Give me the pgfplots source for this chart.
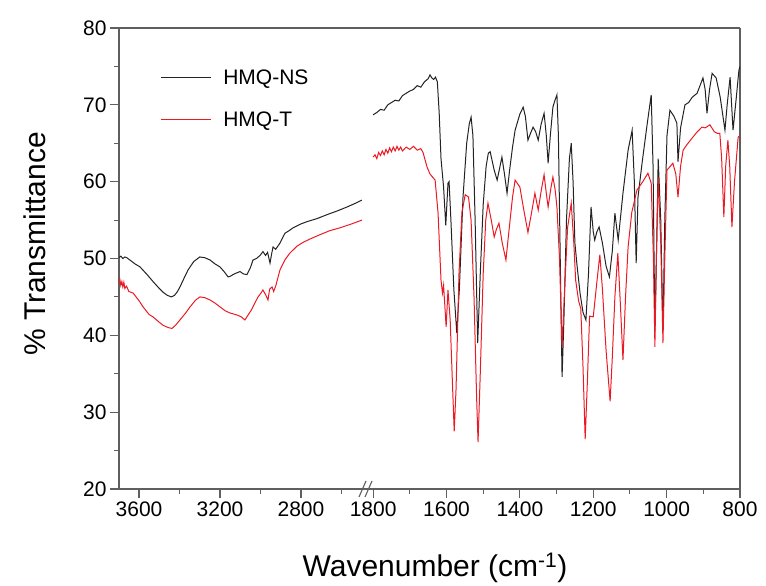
\documentclass[border=0pt]{standalone}
\usepackage{fontspec}
\setmainfont{Liberation Sans}
\usepackage{pgfplots}
\pgfplotsset{compat=1.18}

\definecolor{nsblack}{RGB}{35,35,35}
\definecolor{tred}{RGB}{235,25,35}
\definecolor{framegray}{RGB}{95,95,95}

% common look of both halves of the broken axis
\pgfplotsset{irhalf/.style={
  scale only axis, height=461pt,
  ymin=20, ymax=80,
  x dir=reverse,
  axis x line*=box,
  xtick pos=left,
  tick align=outside,
  major tick length=9pt, minor tick length=5pt,
  axis line style={framegray, line width=1.3pt},
  every tick/.style={framegray, line width=1.1pt},
  tick label style={font=\fontsize{21}{24}\selectfont},
  /pgf/number format/assume math mode=true,
  /pgf/number format/1000 sep={},
  every axis plot/.append style={line width=1pt},
}}

\begin{document}
\begin{tikzpicture}
\useasboundingbox (0,0) rectangle (766pt,586pt);

% ---- high wavenumber part
\begin{axis}[irhalf,
  at={(119pt,97pt)}, anchor=south west, width=249pt,
  xmin=2469, xmax=3699,
  axis y line*=left, ytick pos=left,
  ytick={20,30,40,50,60,70,80}, minor ytick={25,35,45,55,65,75},
  xtick={3600,3200,2800}, minor xtick={3400,3000,2600},
  legend style={draw=none, fill=none, at={(0.165,0.915)}, anchor=north west,
    font=\fontsize{21}{24}\selectfont, row sep=22pt, column sep=10pt, inner sep=0pt},
  legend cell align=left,
  legend image code/.code={\draw[#1] (0pt,0pt) -- (50pt,0pt);},
]
\addplot[nsblack] coordinates {
(3700,50.1)(3690,50.3)(3680,50.0)(3670,50.2)(3660,50.1)(3645,49.8)(3620,49.3)(3595,48.9)
(3560,47.9)(3531,47.0)(3500,46.1)(3481,45.6)(3460,45.2)(3440,45.0)(3425,45.2)(3410,45.7)
(3398,46.3)(3380,47.3)(3358,48.5)(3330,49.6)(3300,50.2)(3275,50.1)(3249,49.8)(3225,49.3)
(3200,48.9)(3180,48.3)(3160,47.6)(3148,47.7)(3136,47.9)(3120,48.1)(3101,48.3)(3085,48.0)
(3067,47.9)(3050,48.8)(3037,49.8)(3020,50.0)(3002,50.4)(2988,50.9)(2975,50.4)(2965,50.8)
(2953,49.4)(2945,50.6)(2938,51.5)(2925,51.2)(2904,52.0)(2879,53.3)(2860,53.6)(2839,54.0)
(2800,54.5)(2770,54.8)(2720,55.2)(2672,55.7)(2620,56.2)(2573,56.7)(2530,57.2)(2499,57.6)
};
\addlegendentry{HMQ-NS}
\addplot[tred] coordinates {
(3700,46.8)(3695,47.3)(3690,46.5)(3685,47.0)(3680,46.3)(3675,46.9)(3670,46.1)(3662,46.4)
(3650,45.7)(3629,45.5)(3600,44.5)(3580,43.7)(3550,42.7)(3531,42.4)(3500,41.7)(3481,41.3)
(3455,41.0)(3437,40.9)(3420,41.3)(3398,42.0)(3370,42.9)(3348,43.7)(3320,44.6)(3299,45.0)
(3275,44.9)(3249,44.6)(3225,44.2)(3200,43.7)(3175,43.2)(3150,42.9)(3136,42.8)(3111,42.6)
(3095,42.4)(3077,42.0)(3060,42.7)(3045,43.3)(3030,44.1)(3012,45.0)(2995,45.6)(2988,45.9)
(2975,45.3)(2963,44.6)(2955,46.0)(2943,46.3)(2935,45.7)(2925,46.4)(2904,48.5)(2880,49.8)
(2855,50.7)(2820,51.6)(2790,52.1)(2750,52.6)(2706,53.1)(2660,53.6)(2607,54.0)(2550,54.5)
(2499,55.0)
};
\addlegendentry{HMQ-T}
\end{axis}

% ---- fingerprint part
\begin{axis}[irhalf,
  at={(368pt,97pt)}, anchor=south west, width=372pt,
  xmin=800, xmax=1814,
  axis y line*=right, ytick=\empty,
  xtick={1800,1600,1400,1200,1000,800}, minor xtick={1700,1500,1300,1100,900},
]
\addplot[nsblack] coordinates {
(1800,68.7)(1790,69.0)(1780,69.4)(1770,69.3)(1760,70.0)(1750,70.3)(1740,70.6)(1730,70.5)
(1720,71.2)(1710,71.5)(1700,71.8)(1690,72.0)(1680,72.5)(1670,72.3)(1660,73.0)(1650,73.4)
(1645,73.9)(1640,73.5)(1635,73.3)(1630,73.6)(1625,73.0)(1620,69.0)(1615,63.0)(1608,59.3)
(1602,54.3)(1596,59.8)(1593,60.0)(1588,55.0)(1580,46.0)(1572,40.3)(1565,46.0)(1555,58.0)
(1545,65.0)(1538,67.5)(1533,68.4)(1528,66.0)(1522,55.0)(1515,39.0)(1508,48.0)(1500,57.0)
(1492,62.0)(1486,63.7)(1481,63.9)(1470,61.5)(1462,60.2)(1455,61.8)(1449,63.2)(1442,61.0)
(1435,58.5)(1428,61.5)(1420,64.5)(1413,66.7)(1400,68.8)(1391,69.7)(1385,68.5)(1378,65.4)
(1371,66.3)(1364,67.1)(1357,66.5)(1350,65.4)(1342,67.5)(1334,68.9)(1328,66.0)(1323,62.4)
(1317,66.0)(1310,69.7)(1305,70.5)(1299,71.3)(1295,66.0)(1290,50.0)(1285,34.6)(1280,42.0)
(1273,55.0)(1265,63.0)(1260,65.0)(1255,60.0)(1250,52.0)(1244,49.0)(1236,45.5)(1228,43.0)
(1220,42.0)(1213,48.0)(1206,56.7)(1200,53.5)(1196,52.4)(1190,53.5)(1184,54.1)(1175,52.0)
(1165,49.0)(1156,47.6)(1148,51.0)(1141,55.9)(1132,52.4)(1119,58.5)(1105,64.1)(1094,66.7)
(1088,60.0)(1083,49.4)(1078,58.0)(1067,62.4)(1053,67.5)(1042,71.3)(1037,62.0)(1032,40.5)
(1027,52.0)(1023,63.0)(1016,55.0)(1010,40.5)(1005,55.0)(999,66.0)(991,69.3)(980,68.5)
(972,67.6)(969,62.6)(962,67.0)(950,70.0)(940,70.3)(930,71.0)(917,71.5)(901,73.5)
(895,72.0)(890,68.9)(883,72.0)(876,74.1)(865,73.5)(854,71.0)(841,66.7)(835,70.0)
(827,73.6)(819,66.7)(810,71.0)(803,74.5)(800,75.0)
};
\addplot[tred] coordinates {
(1800,63.2)(1795,63.5)(1790,63.0)(1785,63.8)(1780,63.4)(1775,64.0)(1770,63.5)(1765,64.2)
(1760,63.7)(1755,64.4)(1750,63.9)(1745,64.5)(1740,64.0)(1735,64.6)(1730,64.1)(1725,64.5)
(1720,64.0)(1710,64.5)(1700,64.2)(1690,64.6)(1680,64.1)(1670,64.3)(1664,63.8)(1653,61.9)
(1645,61.0)(1631,60.2)(1623,55.9)(1615,47.2)(1611,45.5)(1608,46.5)(1601,41.1)(1596,45.9)
(1590,42.0)(1584,34.0)(1579,27.5)(1574,33.0)(1566,48.0)(1558,56.0)(1549,58.3)(1540,58.0)
(1533,55.0)(1525,45.0)(1518,32.0)(1514,26.1)(1508,35.0)(1500,48.0)(1493,55.0)(1487,57.2)
(1478,55.0)(1470,52.8)(1464,53.8)(1457,54.6)(1448,52.0)(1438,49.8)(1430,53.5)(1420,58.0)
(1413,60.2)(1400,59.3)(1390,56.5)(1378,53.4)(1368,56.0)(1359,58.5)(1350,56.3)(1342,58.8)
(1334,60.9)(1328,58.5)(1323,56.7)(1316,59.0)(1310,60.6)(1304,59.0)(1299,56.7)(1292,50.0)
(1285,38.5)(1279,45.0)(1270,54.0)(1260,57.2)(1253,52.0)(1248,47.2)(1240,44.5)(1234,43.5)
(1228,36.0)(1222,26.5)(1216,34.0)(1210,42.5)(1200,42.4)(1190,47.0)(1182,50.5)(1175,46.0)
(1165,38.0)(1154,31.4)(1148,37.2)(1141,45.0)(1133,50.7)(1126,44.0)(1119,36.8)(1112,45.0)
(1105,51.5)(1095,56.0)(1081,58.9)(1065,60.0)(1051,61.1)(1042,59.8)(1036,50.0)(1032,38.5)
(1028,50.0)(1023,60.6)(1016,52.0)(1010,39.0)(1005,50.0)(999,61.5)(990,62.0)(983,62.4)
(975,61.0)(969,58.0)(962,62.0)(955,64.1)(945,64.8)(935,65.4)(920,66.3)(904,67.1)
(895,67.0)(882,67.4)(870,66.5)(862,66.3)(855,66.3)(850,63.0)(844,55.4)(839,62.0)
(833,65.4)(828,62.0)(822,54.1)(815,60.0)(805,65.8)(800,66.0)
};
\end{axis}

% axis break marks
\draw[framegray, line width=1.1pt] (359pt,89pt) -- (366pt,105pt);
\draw[framegray, line width=1.1pt] (365pt,89pt) -- (372pt,105pt);

\node[rotate=90, anchor=base, font=\fontsize{30}{36}\selectfont] at (45pt,342pt) {\% Transmittance};
\node[anchor=base, font=\fontsize{30}{36}\selectfont] at (435pt,9pt) {Wavenumber (cm\textsuperscript{-1})};
\end{tikzpicture}
\end{document}
